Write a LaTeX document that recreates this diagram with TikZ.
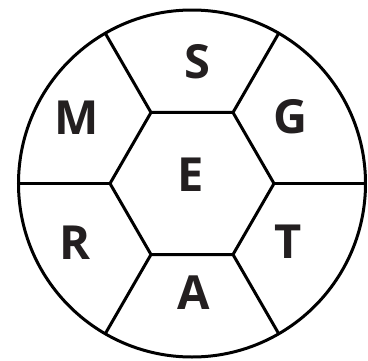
\documentclass[tikz,border=0pt]{standalone}
\usepackage{fontspec}
\setmainfont{Open Sans}[BoldFont={* Bold}]
\usetikzlibrary{calc}
\definecolor{ink}{HTML}{231F20}
\begin{document}
\begin{tikzpicture}[x=1pt,y=-1pt,
  ln/.style={line width=3pt,draw=black},
  letter/.style={inner sep=0pt,font=\fontsize{47}{47}\selectfont\bfseries,text=ink}]
\useasboundingbox (0,0) rectangle (368,360);
\coordinate (c) at (192,183.5);
\node[circle,ln,minimum size=347pt,inner sep=0pt] (ring) at (c) {};
\foreach \i/\a in {1/0,2/60,3/120,4/180,5/240,6/300}{
  \coordinate (h\i) at ($(c)+(\a:82)$);
  \coordinate (o\i) at ($(c)+(\a:173.5)$);
}
\draw[ln,line join=miter] (h1) -- (h2) -- (h3) -- (h4) -- (h5) -- (h6) -- cycle;
\foreach \i in {1,...,6}{ \draw[ln] (h\i) -- (o\i); }
\node[letter] (S) at (197.5,61.5) {S};
\node[letter] (M) at (76.5,118) {M};
\node[letter] (G) at (291,117) {G};
\node[letter] (E) at (190.5,174.5) {E};
\node[letter] (R) at (75.5,242.5) {R};
\node[letter] (T) at (288.5,241.5) {T};
\node[letter] (A) at (194,292.5) {A};
\end{tikzpicture}
\end{document}
